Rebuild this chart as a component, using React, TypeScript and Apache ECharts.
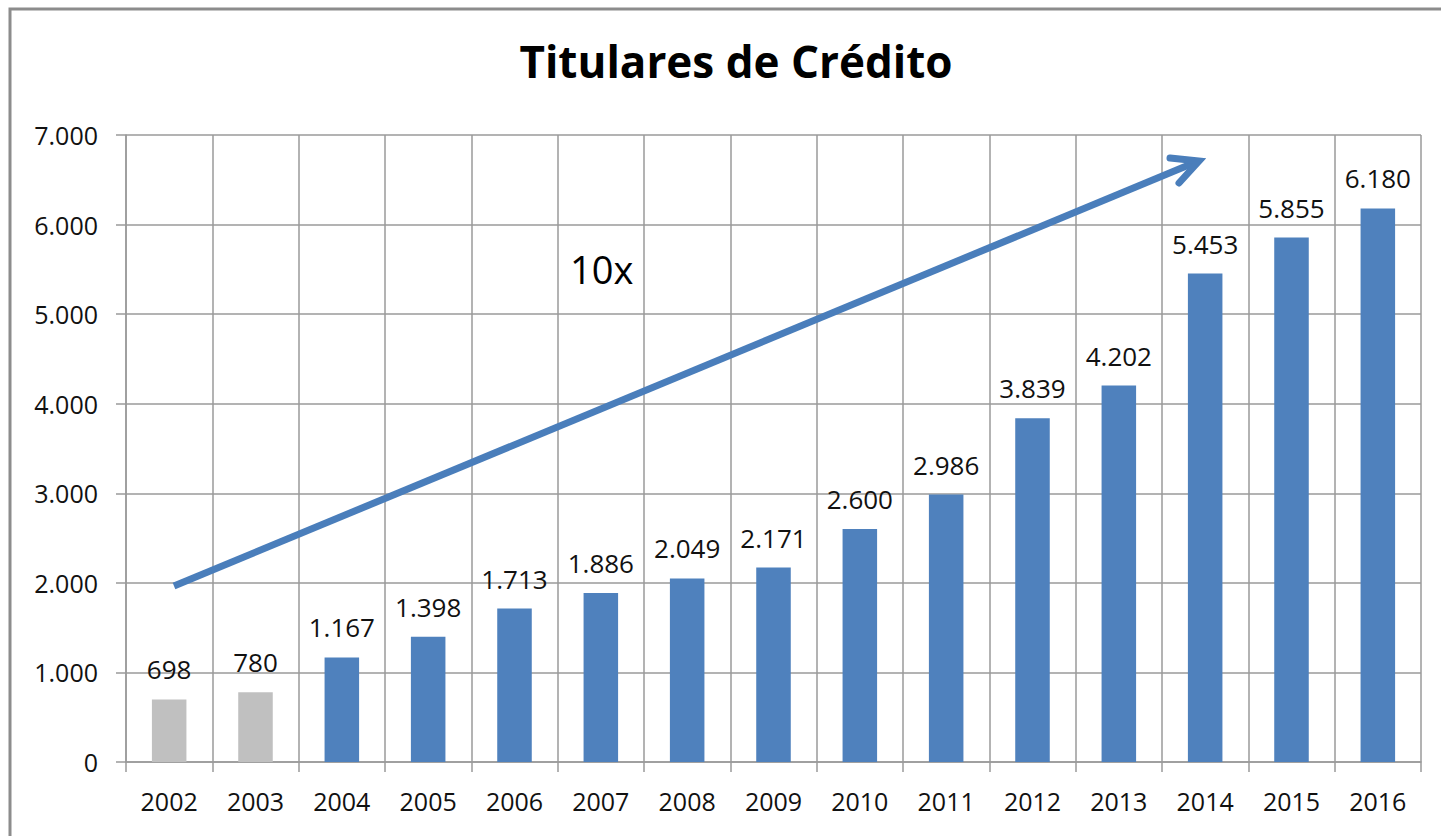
import React, { useEffect, useRef } from "react";
import * as echarts from "echarts";

const years = ["2002", "2003", "2004", "2005", "2006", "2007", "2008", "2009", "2010", "2011", "2012", "2013", "2014", "2015", "2016"];
const holders = [698, 780, 1167, 1398, 1713, 1886, 2049, 2171, 2600, 2986, 3839, 4202, 5453, 5855, 6180];
const grayYears = ["2002", "2003"];
const titleText = "Titulares de Crédito";
const growthText = "10x";

const fmt = (v: number) => String(Math.round(v)).replace(/\B(?=(\d{3})+(?!\d))/g, ".");

export default function App() {
  const ref = useRef<HTMLDivElement>(null);
  useEffect(() => {
    if (!ref.current) return;
    const chart = echarts.init(ref.current, null, { renderer: "svg" });
    const font = "'Open Sans', sans-serif";
    const blue = "#4f81bd";
    const arrowColor = "#4a7ebb";
    const txt = "#111";
    chart.setOption({
      animation: false,
      backgroundColor: "#ffffff",
      textStyle: { fontFamily: font },
      title: {
        text: titleText,
        left: 731,
        textAlign: "center",
        top: 34,
        textStyle: { fontFamily: font, fontWeight: "bold", fontSize: 44, color: "#000" },
      },
      grid: { left: 126, right: 20, top: 135, bottom: 74, containLabel: false },
      xAxis: {
        type: "category",
        data: years,
        boundaryGap: true,
        axisLine: { show: true, lineStyle: { color: "#9a9a9a", width: 1.5 } },
        axisTick: { show: true, length: 10, alignWithLabel: false, lineStyle: { color: "#9a9a9a", width: 1.5 } },
        splitLine: { show: true, lineStyle: { color: "#9a9a9a", width: 1.5 } },
        axisLabel: { margin: 26, fontSize: 25, color: txt, fontFamily: font },
      },
      yAxis: {
        type: "value",
        min: 0,
        max: 7000,
        interval: 1000,
        axisLine: { show: true, lineStyle: { color: "#9a9a9a", width: 1.5 } },
        axisTick: { show: true, length: 10, lineStyle: { color: "#9a9a9a", width: 1.5 } },
        splitLine: { show: true, lineStyle: { color: "#9a9a9a", width: 1.5 } },
        axisLabel: { margin: 28, fontSize: 25, color: txt, fontFamily: font, formatter: (v: number) => fmt(v) },
      },
      series: [
        {
          type: "bar",
          barWidth: "40%",
          data: holders.map((v, i) => ({
            value: v,
            itemStyle: { color: grayYears.includes(years[i]) ? "#c0c0c0" : blue },
          })),
          label: {
            show: true,
            position: "top",
            distance: 17,
            fontSize: 26,
            color: txt,
            fontFamily: font,
            formatter: (p: any) => fmt(p.value),
          },
        },
      ],
      graphic: [
        {
          type: "rect",
          shape: { x: 10, y: 9, width: 1460, height: 900 },
          style: { fill: "none", stroke: "#8c8c8c", lineWidth: 3 },
          silent: true,
        },
        {
          type: "polyline",
          shape: { points: [[174, 586], [1196, 162]] },
          style: { stroke: arrowColor, lineWidth: 7, fill: "none" },
          z: 10,
        },
        {
          type: "polyline",
          shape: { points: [[1170, 158], [1199, 161], [1179, 183]] },
          style: { stroke: arrowColor, lineWidth: 7, fill: "none", lineJoin: "miter", lineCap: "round" },
          z: 10,
        },
        {
          type: "text",
          x: 570,
          y: 250,
          style: { text: growthText, fontSize: 38, fontFamily: font, fill: "#000" },
          z: 10,
        },
      ],
    });
    return () => chart.dispose();
  }, []);
  return <div ref={ref} style={{ position: "fixed", left: 0, top: 0, width: 1441, height: 836 }} />;
}
